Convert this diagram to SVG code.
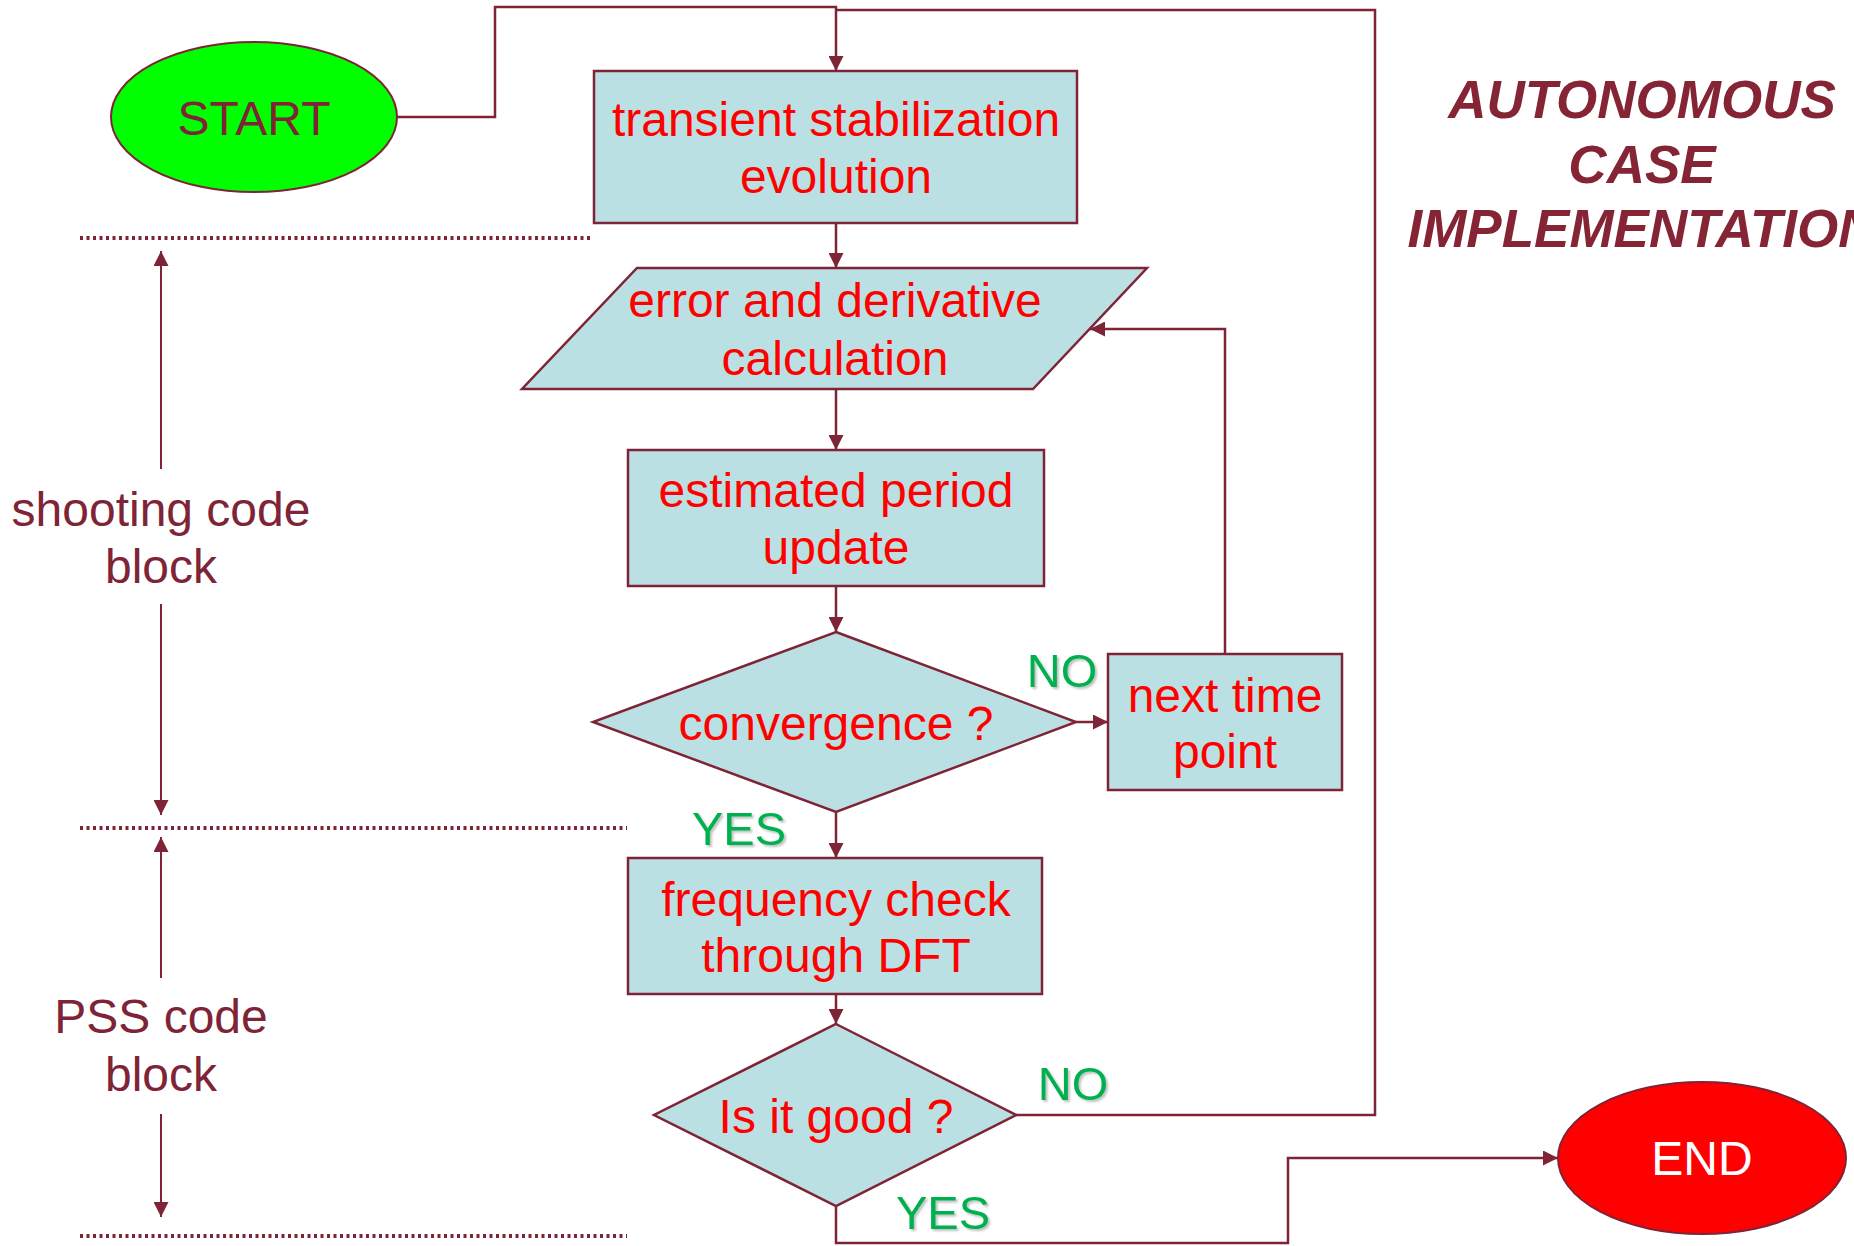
<svg xmlns="http://www.w3.org/2000/svg" width="1854" height="1246" viewBox="0 0 1854 1246">
  <defs>
    <marker id="arrow" viewBox="0 0 15 15" refX="15" refY="7.5" markerWidth="15" markerHeight="15" markerUnits="userSpaceOnUse" orient="auto">
      <path d="M0,0 L15,7.5 L0,15 Z" fill="#7E2436"/>
    </marker>
    <filter id="soft" x="-20%" y="-20%" width="140%" height="140%">
      <feDropShadow dx="2" dy="2" stdDeviation="1" flood-color="#000" flood-opacity="0.25"/>
    </filter>
  </defs>
  <style>
    .shape { fill: #BBE0E3; stroke: #7E2436; stroke-width: 2.5; }
    .node-text { font-family: "Liberation Sans", Arial, sans-serif; font-size: 48px; fill: #FF0000; text-anchor: middle; }
    .side-text { font-family: "Liberation Sans", Arial, sans-serif; font-size: 48px; fill: #7E2436; text-anchor: middle; }
    .label { font-family: "Liberation Sans", Arial, sans-serif; font-size: 47px; fill: #00B050; text-anchor: middle; filter: url(#soft); }
    .title { font-family: "Liberation Sans", Arial, sans-serif; font-size: 53px; font-weight: bold; font-style: italic; fill: #842434; text-anchor: middle; }
    .wire { fill: none; stroke: #7E2436; stroke-width: 2.5; }
    .guide { fill: none; stroke: #7E2436; stroke-width: 2; }
    .dots { fill: none; stroke: #7E2436; stroke-width: 4; stroke-dasharray: 3 3.5; }
  </style>

  <rect width="1854" height="1246" fill="#FFFFFF"/>

  <!-- section separators and extent arrows -->
  <g id="sections">
    <line class="dots" x1="80" y1="238" x2="593" y2="238"/>
    <line class="dots" x1="80" y1="828" x2="627" y2="828"/>
    <line class="dots" x1="80" y1="1236" x2="627" y2="1236"/>
    <line class="guide" x1="161" y1="469" x2="161" y2="251" marker-end="url(#arrow)"/>
    <line class="guide" x1="161" y1="604" x2="161" y2="815" marker-end="url(#arrow)"/>
    <line class="guide" x1="161" y1="978" x2="161" y2="837" marker-end="url(#arrow)"/>
    <line class="guide" x1="161" y1="1114" x2="161" y2="1217" marker-end="url(#arrow)"/>
    <text class="side-text" x="161" y="526">shooting code</text>
    <text class="side-text" x="161" y="583">block</text>
    <text class="side-text" x="161" y="1033">PSS code</text>
    <text class="side-text" x="161" y="1091">block</text>
  </g>

  <!-- heading, running past the right edge -->
  <g id="title">
    <text class="title" x="1642" y="118">AUTONOMOUS</text>
    <text class="title" x="1642" y="183">CASE</text>
    <text class="title" x="1642" y="247">IMPLEMENTATION</text>
  </g>

  <!-- connectors -->
  <g id="connectors">
    <path class="wire" d="M397,117 H495 V7 H836 V71" marker-end="url(#arrow)"/>
    <path class="wire" d="M836,223 V268" marker-end="url(#arrow)"/>
    <path class="wire" d="M836,389 V450" marker-end="url(#arrow)"/>
    <path class="wire" d="M836,586 V632" marker-end="url(#arrow)"/>
    <path class="wire" d="M1076,722 H1108" marker-end="url(#arrow)"/>
    <path class="wire" d="M1225,654 V329 H1090" marker-end="url(#arrow)"/>
    <path class="wire" d="M836,812 V858" marker-end="url(#arrow)"/>
    <path class="wire" d="M836,994 V1024" marker-end="url(#arrow)"/>
    <path class="wire" d="M1016,1115 H1375 V10 H836"/>
    <path class="wire" d="M836,1206 V1243 H1288 V1158 H1558" marker-end="url(#arrow)"/>
    <text class="label" x="1062" y="687">NO</text>
    <text class="label" x="739" y="845">YES</text>
    <text class="label" x="1073" y="1100">NO</text>
    <text class="label" x="943" y="1229">YES</text>
  </g>

  <g id="start">
    <ellipse cx="254" cy="117" rx="143" ry="75" fill="#00FF00" stroke="#7E2436" stroke-width="2"/>
    <text class="side-text" x="254" y="135">START</text>
  </g>

  <g id="transient">
    <rect class="shape" x="594" y="71" width="483" height="152"/>
    <text class="node-text" x="836" y="136">transient stabilization</text>
    <text class="node-text" x="836" y="193">evolution</text>
  </g>

  <g id="error-calc">
    <polygon class="shape" points="637,268 1147,268 1033,389 522,389"/>
    <text class="node-text" x="835" y="317">error and derivative</text>
    <text class="node-text" x="835" y="375">calculation</text>
  </g>

  <g id="period-update">
    <rect class="shape" x="628" y="450" width="416" height="136"/>
    <text class="node-text" x="836" y="507">estimated period</text>
    <text class="node-text" x="836" y="564">update</text>
  </g>

  <g id="convergence">
    <polygon class="shape" points="836,632 1076,722 836,812 593,722"/>
    <text class="node-text" x="836" y="740">convergence ?</text>
  </g>

  <g id="next-point">
    <rect class="shape" x="1108" y="654" width="234" height="136"/>
    <text class="node-text" x="1225" y="712">next time</text>
    <text class="node-text" x="1225" y="768">point</text>
  </g>

  <g id="frequency-check">
    <rect class="shape" x="628" y="858" width="414" height="136"/>
    <text class="node-text" x="836" y="916">frequency check</text>
    <text class="node-text" x="836" y="972">through DFT</text>
  </g>

  <g id="is-good">
    <polygon class="shape" points="836,1024 1016,1115 836,1206 654,1115"/>
    <text class="node-text" x="836" y="1133">Is it good ?</text>
  </g>

  <g id="end">
    <ellipse cx="1702" cy="1158" rx="144" ry="76" fill="#FF0000" stroke="#7E2436" stroke-width="2"/>
    <text class="node-text" x="1702" y="1175" style="fill:#FFFFFF">END</text>
  </g>
</svg>
